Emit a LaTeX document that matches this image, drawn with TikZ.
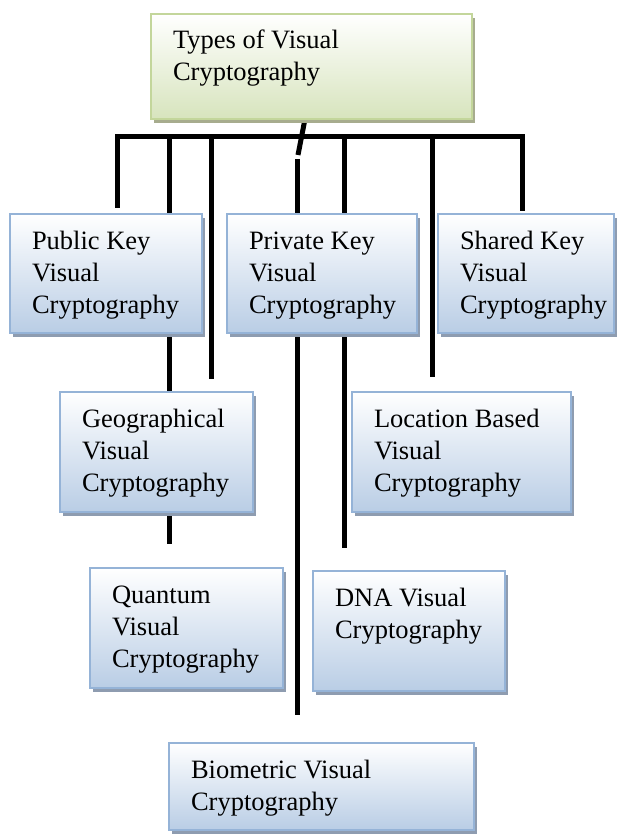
\documentclass[tikz,border=0pt]{standalone}
\usepackage{fontspec}
\setmainfont{Liberation Serif}
\usetikzlibrary{shadows,backgrounds}
\definecolor{bluefill}{HTML}{B9CDE5}
\definecolor{blueline}{HTML}{95B3D7}
\definecolor{blueshadow}{HTML}{8E9CB0}
\definecolor{greenfill}{HTML}{D7E4BD}
\definecolor{greenline}{HTML}{C3D69B}
\definecolor{greenshadow}{HTML}{A7AC8E}
\newcommand{\boxtext}[3]{\parbox[t][#2][t]{#1}{\raggedright\leftskip=22pt\fontsize{26.5}{32}\selectfont\rule{0pt}{35pt}#3}}
\tikzset{
  bluebox/.style={anchor=north west, inner sep=0pt, outer sep=0pt,
    draw=blueline, line width=1.5pt, top color=white, bottom color=bluefill,
    general shadow={fill=blueshadow, shadow xshift=3pt, shadow yshift=-4pt}},
  greenbox/.style={anchor=north west, inner sep=0pt, outer sep=0pt,
    draw=greenline, line width=1.5pt, top color=white, bottom color=greenfill,
    general shadow={fill=greenshadow, shadow xshift=3pt, shadow yshift=-4pt}},
  conn/.style={line width=5pt, black, line join=miter}
}
\begin{document}
\begin{tikzpicture}[x=1pt,y=1pt]
\useasboundingbox (0,0) rectangle (622,-834);
% boxes
\node[greenbox] (types) at (151,-14) {\boxtext{321pt}{105pt}{Types of Visual\\Cryptography}};
\node[bluebox] (pub) at (10,-214) {\boxtext{192pt}{119pt}{Public Key\\Visual\\Cryptography}};
\node[bluebox] (priv) at (227,-214) {\boxtext{190pt}{119pt}{Private Key\\Visual\\Cryptography}};
\node[bluebox] (shared) at (438,-214) {\boxtext{176pt}{119pt}{Shared Key\\Visual\\Cryptography}};
\node[bluebox] (geo) at (60,-392) {\boxtext{193pt}{120pt}{Geographical\\Visual\\Cryptography}};
\node[bluebox] (loc) at (352,-392) {\boxtext{219pt}{120pt}{Location Based\\Visual\\Cryptography}};
\node[bluebox] (quan) at (90,-568) {\boxtext{193pt}{120pt}{Quantum\\Visual\\Cryptography}};
\node[bluebox] (dna) at (313,-571) {\boxtext{192pt}{120pt}{DNA Visual\\Cryptography}};
\node[bluebox] (bio) at (169,-743) {\boxtext{305pt}{87pt}{Biometric Visual\\Cryptography}};
% connector end points
\coordinate (barL) at (117,-137);
\coordinate (barR) at (522,-137);
\coordinate (endL) at (117,-208);
\coordinate (endR) at (522,-211);
\coordinate (a0) at (169,-137);
\coordinate (a1) at (169,-544);
\coordinate (b0) at (211,-137);
\coordinate (b1) at (211,-379);
\coordinate (s0) at (305,-119);
\coordinate (s1) at (298,-155);
\coordinate (c0) at (297,-159);
\coordinate (c1) at (297,-715);
\coordinate (d0) at (344,-137);
\coordinate (d1) at (344,-548);
\coordinate (e0) at (432,-137);
\coordinate (e1) at (432,-377);
\begin{scope}[on background layer]
\draw[conn] (endL) -- (barL) -- (barR) -- (endR);
\draw[conn] (a0) -- (a1);
\draw[conn] (b0) -- (b1);
\draw[conn] (s0) -- (s1);
\draw[conn] (c0) -- (c1);
\draw[conn] (d0) -- (d1);
\draw[conn] (e0) -- (e1);
\end{scope}
\end{tikzpicture}
\end{document}
